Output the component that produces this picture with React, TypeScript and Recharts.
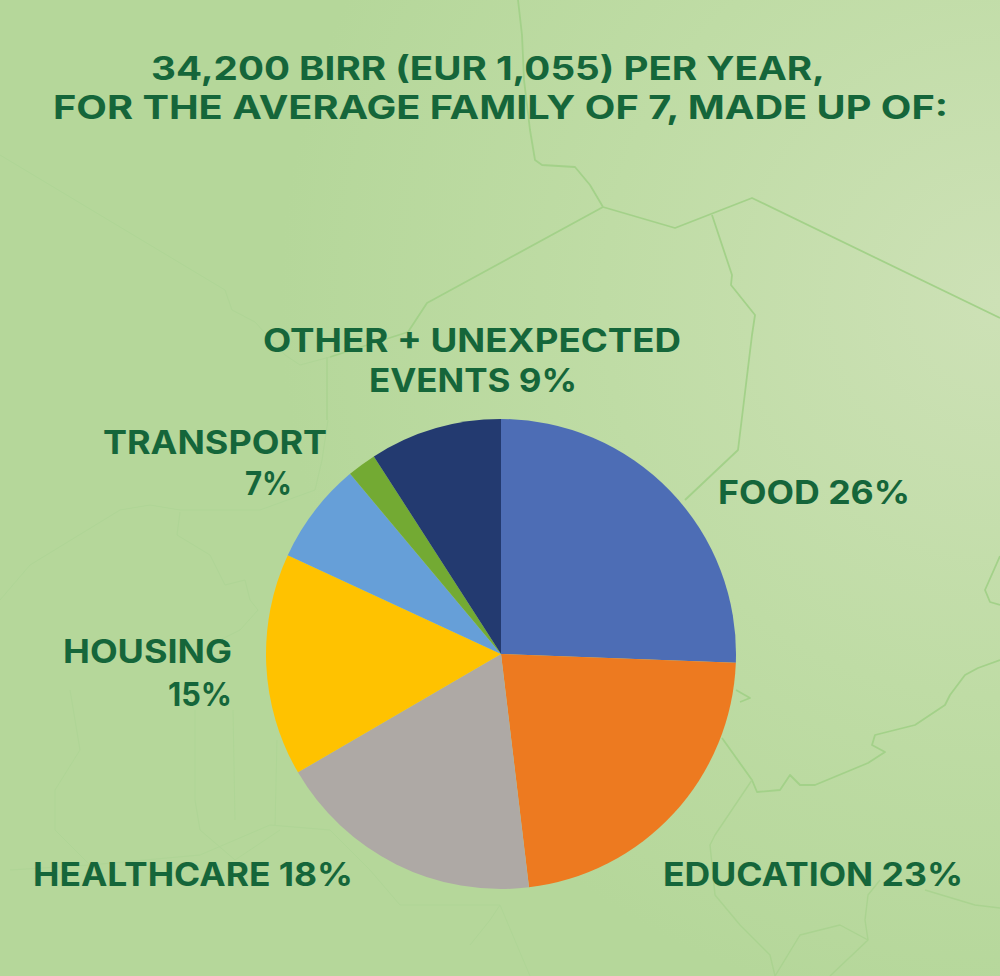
import React from "react";
import { PieChart, Pie, Cell } from "recharts";

const categories = ["Food", "Education", "Healthcare", "Housing", "Transport", "Unlabelled", "Other + unexpected events"];
const shares = [25.6, 22.5, 18.5, 15.3, 7.0, 2.0, 9.1];
const sliceColors = ["#4d6db5", "#ed7a20", "#aea9a5", "#ffc200", "#669fd8", "#73aa33", "#233a70"];
const pieData = categories.map((name, i) => ({ name, value: shares[i] }));

const W = 1000;
const H = 976;
const INK = "#15663a";

const texts: [string, number, number, number][] = [
  ["34,200 BIRR (EUR 1,055) PER YEAR,", 151, 825, 80],
  ["FOR THE AVERAGE FAMILY OF 7, MADE UP OF:", 53, 948, 119],
  ["OTHER + UNEXPECTED", 263, 681, 352],
  ["EVENTS 9%", 369, 577, 392],
  ["TRANSPORT", 103, 327, 454],
  ["7%", 245, 292, 495],
  ["FOOD 26%", 718, 910, 504],
  ["HOUSING", 63, 232, 663],
  ["15%", 168, 232, 706],
  ["HEALTHCARE 18%", 33, 353, 886],
  ["EDUCATION 23%", 663, 963, 886],
];

const strongLines = [
  "M518,0 L522,35 L524,80 L530,130 L535,160 L542,165 L575,167 L590,185 L603,207",
  "M603,207 L675,228 L752,198 L1000,318",
  "M712,215 L732,275 L731,285 L755,315 L752,335 L738,450 L685,500",
  "M603,207 L427,303 L408,332 L330,357",
  "M1000,660 L978,668 L965,675 L950,695 L945,705 L915,725 L875,735 L872,745 L885,752 L868,763 L815,785 L800,785 L790,775 L780,790 L757,792 L752,780 L722,738",
  "M736,690 L750,698 L740,702",
  "M1000,556 L985,590 L990,602 L1000,605",
];
const midLines = [
  "M752,780 L715,835 L710,845 L715,895 L740,925 L770,955 L775,976",
  "M925,890 L975,905 L1000,908",
  "M880,880 L868,895 L865,920 L868,940 L830,976",
  "M868,940 L840,925 L800,935 L775,976",
  "M327,357 L327,420",
];
const faintLines = [
  "M0,155 L225,290 L232,310 L255,322 L285,355 L300,365 L330,357",
  "M0,600 L30,565 L120,510 L150,505 L180,510 L260,510 L315,490 L322,460 L328,420",
  "M180,512 L177,535 L210,555 L225,585 L245,580 L250,600 L258,610 L240,630 L220,640",
  "M70,690 L80,750 L55,790 L55,830 L90,865",
  "M195,710 L195,800 L200,830 L235,860 L280,830",
  "M233,710 L235,820",
  "M277,740 L275,825",
  "M10,870 L90,865 L200,855 L270,825 L330,830 L370,870 L400,905 L500,905",
  "M470,945 L490,920 L500,905 L530,976",
];

export default function App() {
  return (
    <div style={{ position: "absolute", left: 0, top: 0, width: W, height: H, overflow: "hidden" }}>
      <svg width={W} height={H} style={{ position: "absolute", left: 0, top: 0 }}>
        <defs>
          <radialGradient id="bg" gradientUnits="userSpaceOnUse" cx={1000} cy={300} r={720}>
            <stop offset="0" stopColor="#cde1b6" />
            <stop offset="0.55" stopColor="#bfdca5" />
            <stop offset="1" stopColor="#b5d79a" />
          </radialGradient>
        </defs>
        <rect width={W} height={H} fill="url(#bg)" />
        <g fill="none" strokeLinejoin="round">
          {strongLines.map((d, i) => <path key={i} d={d} stroke="#a3d189" strokeWidth={1.8} />)}
          {midLines.map((d, i) => <path key={i} d={d} stroke="#aad390" strokeWidth={1.4} />)}
          {faintLines.map((d, i) => <path key={i} d={d} stroke="#afd596" strokeWidth={1} />)}
        </g>
      </svg>
      <div style={{ position: "absolute", left: 0, top: 0 }}>
        <PieChart width={W} height={H} margin={{ top: 0, right: 0, bottom: 0, left: 0 }}>
          <Pie
            data={pieData}
            dataKey="value"
            nameKey="name"
            cx={501}
            cy={654}
            outerRadius={235}
            startAngle={90}
            endAngle={-270}
            stroke="none"
            isAnimationActive={false}
          >
            {pieData.map((d, i) => <Cell key={d.name} fill={sliceColors[i]} />)}
          </Pie>
        </PieChart>
      </div>
      <svg width={W} height={H} style={{ position: "absolute", left: 0, top: 0, pointerEvents: "none" }}>
        {texts.map(([t, x0, x1, y]) => (
          <text
            key={t}
            x={x0}
            y={y}
            textLength={x1 - x0}
            lengthAdjust="spacingAndGlyphs"
            fill={INK}
            fontFamily="Inter, sans-serif"
            fontWeight={700}
            fontSize={32}
          >
            {t}
          </text>
        ))}
      </svg>
    </div>
  );
}
